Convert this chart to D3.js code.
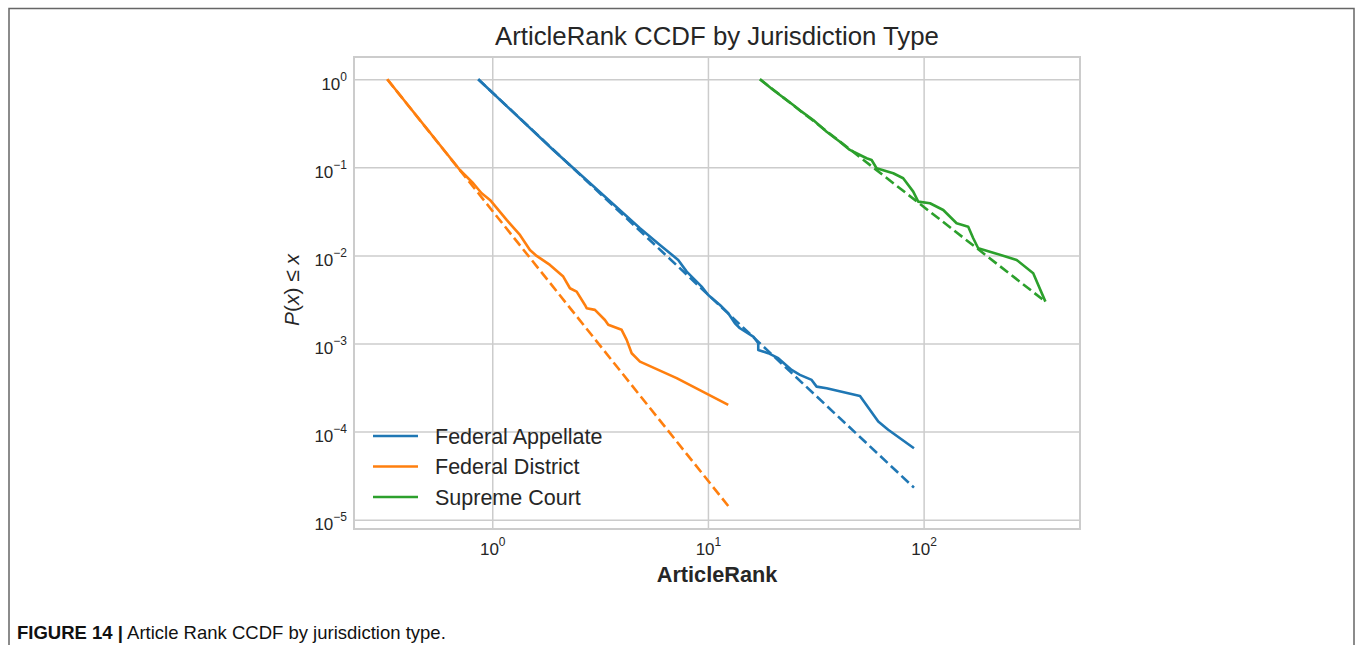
<!DOCTYPE html>
<html>
<head>
<meta charset="utf-8">
<script src="https://cdn.jsdelivr.net/npm/d3@7"></script>
<style>
  body { margin: 0; background: #fff; }
  svg { display: block; font-family: "Liberation Sans", Arial, sans-serif; }
</style>
</head>
<body>
<script>
// legend order / colours
const categories = ["Federal Appellate", "Federal District", "Supreme Court"];
const colors = ["#1f77b4", "#ff7f0e", "#2ca02c"];

// empirical ccdf, [ArticleRank, P]
const appellateCcdf = [
  [0.861, 1], [1.918, 0.1576], [4.84, 0.0204], [5.99, 0.01316], [7.28, 0.00889],
  [7.97, 0.00655], [9.35, 0.00442], [10.03, 0.00356], [11.37, 0.00274], [12.42, 0.00221],
  [13.34, 0.0017], [14.07, 0.00149], [16.22, 0.0012], [17.11, 0.00101], [17.11, 0.000846],
  [19.04, 0.000776], [21.18, 0.000681], [24.43, 0.000501], [26.7, 0.00044], [30.26, 0.000386],
  [31.9, 0.000324], [35.5, 0.000311], [50.7, 0.000254], [61.6, 0.00013], [68.5, 0.000105],
  [90.2, 6.48e-5]
];
const districtCcdf = [
  [0.326, 1], [0.708, 0.0934], [0.816, 0.066], [0.893, 0.0508],
  [0.976, 0.0427], [1.166, 0.0253], [1.344, 0.0171], [1.495, 0.01154], [1.606, 0.00987],
  [1.851, 0.0078], [2.134, 0.00575], [2.292, 0.00424], [2.462, 0.00388], [2.69, 0.00274],
  [2.739, 0.00252], [2.993, 0.00241], [3.33, 0.00185], [3.45, 0.00163], [3.98, 0.00143],
  [4.2, 0.0011], [4.43, 0.000776], [4.84, 0.000623], [7.16, 0.000404], [12.42, 0.000201]
];
const supremeCcdf = [
  [17.42, 1], [20.08, 0.756], [24.86, 0.511], [27.2, 0.429], [30.77, 0.345],
  [35.5, 0.254], [40.9, 0.1957], [45.5, 0.1576], [50.7, 0.1382], [54.4, 0.1269],
  [57.4, 0.1213], [60.5, 0.0977], [72.3, 0.0857], [80.4, 0.0752], [89.5, 0.053],
  [94.4, 0.0408], [107, 0.0391], [123.3, 0.0328], [142.2, 0.0232], [161, 0.0212],
  [169.8, 0.01567], [179.1, 0.01207], [210.2, 0.01076], [270, 0.00889], [322.2, 0.00628],
  [367, 0.00299]
];

// power law fits (dashed)
const appellateFit = [[0.861, 1], [90.2, 2.31e-5]];
const districtFit = [[0.326, 1], [12.42, 1.43e-5]];
const supremeFit = [[17.42, 1], [367, 0.00299]];

const xTicks = [1, 10, 100];
const yTicks = [1, 1e-1, 1e-2, 1e-3, 1e-4, 1e-5];

const W = 1355, H = 645;
const pLeft = 354, pRight = 1080, pTop = 57, pBottom = 529;
const textColor = "#262626", gridColor = "#cccccc";

const svg = d3.select("body").append("svg")
  .attr("width", W)
  .attr("height", H);

svg.append("rect").attr("width", W).attr("height", H).attr("fill", "#fff");

// figure border (open at the bottom)
svg.append("path")
  .attr("d", `M9,${H} V8.5 H1354 V${H}`)
  .attr("fill", "none")
  .attr("stroke", "#666")
  .attr("stroke-width", 1.5);

const x = d3.scaleLog().domain([10 ** -0.641, 10 ** 2.725]).range([pLeft, pRight]);
const y = d3.scaleLog().domain([10 ** 0.253, 10 ** -5.106]).range([pTop, pBottom]);

// exponent text, matplotlib style minus
const sup = d => d < 0 ? "\u2212" + Math.abs(d) : String(d);

function powLabel(d) {
  const t = d3.select(this)
    .attr("dy", null)
    .attr("fill", textColor).attr("font-size", 17)
    .attr("font-family", "Liberation Sans, Arial, sans-serif");
  t.append("tspan").text("10");
  t.append("tspan").attr("dy", -9).attr("font-size", 12).text(sup(Math.round(Math.log10(d))));
}

// grid + tick labels
const gx = svg.append("g")
  .attr("transform", `translate(0,${pBottom})`)
  .call(d3.axisBottom(x).tickValues(xTicks).tickSize(-(pBottom - pTop)).tickFormat(""));
gx.select(".domain").remove();
gx.selectAll(".tick line").attr("stroke", gridColor).attr("stroke-width", 1.5);
gx.selectAll(".tick text").attr("y", 26).each(powLabel);

const gy = svg.append("g")
  .attr("transform", `translate(${pLeft},0)`)
  .call(d3.axisLeft(y).tickValues(yTicks).tickSize(-(pRight - pLeft)).tickFormat(""));
gy.select(".domain").remove();
gy.selectAll(".tick line").attr("stroke", gridColor).attr("stroke-width", 1.5);
gy.selectAll(".tick text").attr("x", -7).attr("y", 10).each(powLabel);

// frame
svg.append("rect")
  .attr("x", pLeft).attr("y", pTop)
  .attr("width", pRight - pLeft).attr("height", pBottom - pTop)
  .attr("fill", "none").attr("stroke", gridColor).attr("stroke-width", 2);

const line = d3.line().x(d => x(d[0])).y(d => y(d[1]));

const series = [
  {name: categories[0], color: colors[0], data: appellateCcdf, fit: appellateFit},
  {name: categories[1], color: colors[1], data: districtCcdf, fit: districtFit},
  {name: categories[2], color: colors[2], data: supremeCcdf, fit: supremeFit}
];

const plot = svg.append("g");
series.forEach(s => {
  plot.append("path")
    .attr("d", line(s.data))
    .attr("fill", "none").attr("stroke", s.color)
    .attr("stroke-width", 2.6).attr("stroke-linejoin", "round");
  plot.append("path")
    .attr("d", line(s.fit))
    .attr("fill", "none").attr("stroke", s.color)
    .attr("stroke-width", 2.6).attr("stroke-dasharray", "10,4.5");
});

// legend
const legend = svg.append("g").attr("transform", "translate(373,436)");
series.forEach((s, i) => {
  const row = legend.append("g").attr("transform", `translate(0,${i * 30.5})`);
  row.append("line").attr("x1", 0).attr("x2", 45)
    .attr("stroke", s.color).attr("stroke-width", 2.6);
  row.append("text").attr("x", 62).attr("y", 7.5)
    .attr("font-size", 21.5).attr("fill", textColor).text(s.name);
});

// title and axis labels
svg.append("text")
  .attr("x", (pLeft + pRight) / 2).attr("y", 45)
  .attr("text-anchor", "middle").attr("font-size", 25.8).attr("fill", textColor)
  .text("ArticleRank CCDF by Jurisdiction Type");

svg.append("text")
  .attr("x", (pLeft + pRight) / 2).attr("y", 582)
  .attr("text-anchor", "middle").attr("font-size", 21.7).attr("font-weight", "bold")
  .attr("fill", textColor).text("ArticleRank");

const yl = svg.append("text")
  .attr("transform", `translate(299,290) rotate(-90)`)
  .attr("text-anchor", "middle").attr("font-size", 21).attr("fill", textColor);
yl.append("tspan").attr("font-style", "italic").text("P");
yl.append("tspan").text("(");
yl.append("tspan").attr("font-style", "italic").text("x");
yl.append("tspan").text(") \u2264 ");
yl.append("tspan").attr("font-style", "italic").text("x");

// caption
const cap = svg.append("text")
  .attr("x", 17).attr("y", 639)
  .attr("font-size", 18.5).attr("fill", "#111");
cap.append("tspan").attr("font-weight", "bold").text("FIGURE 14 |");
cap.append("tspan").text(" Article Rank CCDF by jurisdiction type.");
</script>
</body>
</html>
